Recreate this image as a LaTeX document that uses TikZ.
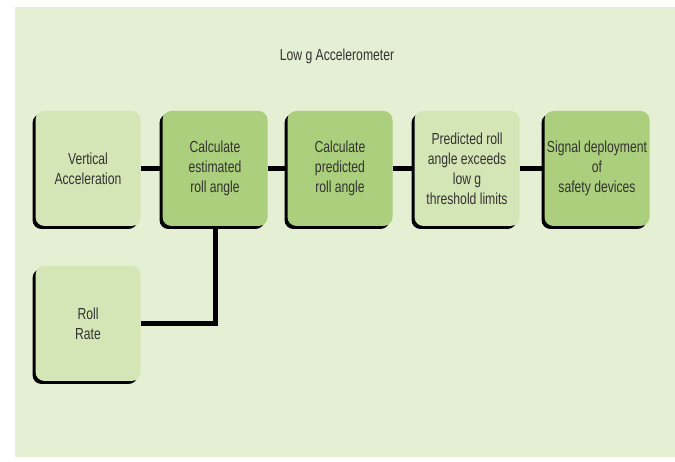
\documentclass[tikz,border=0pt]{standalone}
\usepackage{fontspec}
\newfontfamily\condfont[FakeStretch=0.76]{Liberation Sans}
\usetikzlibrary{shadows}
\definecolor{bgcol}{HTML}{E4EFD3}
\definecolor{palecol}{HTML}{D5E6B6}
\definecolor{deepcol}{HTML}{ABCF7C}
\definecolor{txtcol}{HTML}{333333}
\begin{document}
\begin{tikzpicture}[x=1pt,y=-1pt,
  box/.style={rounded corners=9pt, minimum width=105pt, minimum height=115pt,
    align=center, text=txtcol, inner sep=2pt,
    font=\condfont\fontsize{16}{20}\selectfont,
    drop shadow={shadow xshift=-3pt, shadow yshift=-3pt, fill=black, opacity=1}},
  palebox/.style={box, fill=palecol},
  deepbox/.style={box, fill=deepcol},
  link/.style={line width=5pt, draw=black},
  title/.style={text=txtcol, font=\condfont\fontsize{16}{20}\selectfont}
]
\useasboundingbox (0,0) rectangle (675,462);
\fill[white] (0,0) rectangle (675,462);
\fill[bgcol] (15,7) rectangle (675,457);

\node[title] (t) at (337,56) {Low g Accelerometer};

\node[palebox] (v) at (88,168.5) {Vertical\\Acceleration};
\node[deepbox] (e) at (215,168.5) {Calculate\\estimated\\roll angle};
\node[deepbox] (p) at (340,168.5) {Calculate\\predicted\\roll angle};
\node[palebox] (x) at (467,168.5) {Predicted roll\\angle exceeds\\low g\\threshold limits};
\node[deepbox] (s) at (597,168.5) {Signal deployment\\of\\safety devices};
\node[palebox] (r) at (88,323.5) {Roll\\Rate};

\draw[link] (v) -- (e);
\draw[link] (e) -- (p);
\draw[link] (p) -- (x);
\draw[link] (x) -- (s);
\draw[link] (e.south) |- (r.east);
\end{tikzpicture}
\end{document}
